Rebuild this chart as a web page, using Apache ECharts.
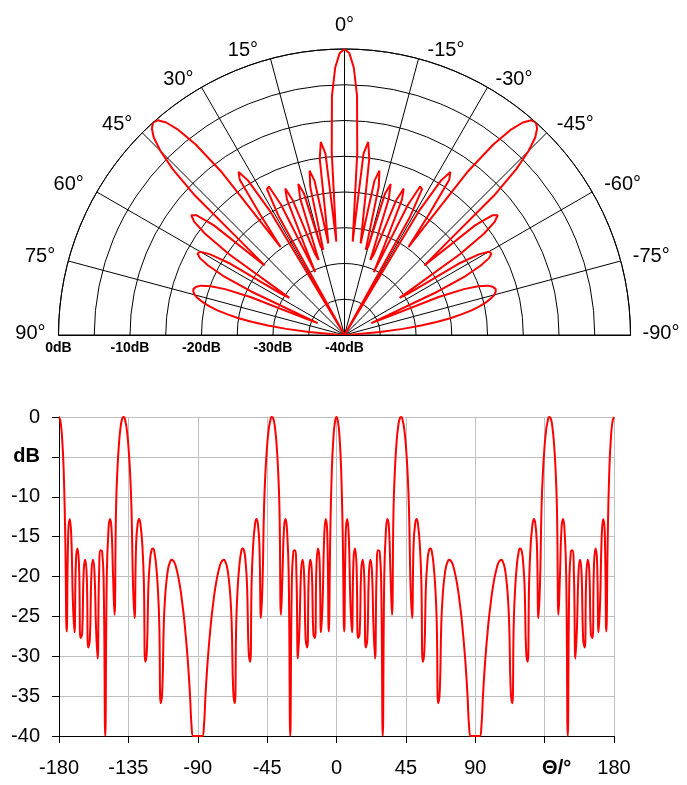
<!DOCTYPE html>
<html>
<head>
<meta charset="utf-8">
<script src="https://cdn.jsdelivr.net/npm/echarts@6/dist/echarts.min.js"></script>
<style>
html,body{margin:0;padding:0;background:#fff;}
#c{width:687px;height:785px;}
</style>
</head>
<body>
<div id="c"></div>
<script>
// Pattern values (dB), one sample per degree.
const thetaStart = -180;           // first sample angle (deg)
// theta -180 .. -90
const dbFromM180 = [
  0, -0.6, -2.6, -6.5, -14.4, -26.9, -14.5, -12.8, -15.1, -23.1,
  -27.0, -18.0, -16.5, -18.7, -27.7, -27.2, -19.4, -17.9, -20.0, -28.9,
  -27.9, -19.8, -17.9, -19.4, -26.3, -30.3, -19.7, -16.7, -16.9, -21.0,
  -40, -19.8, -14.5, -12.8, -13.8, -19.5, -24.8, -11.5, -6.2, -3.1,
  -1.2, -0.2, 0, -0.5, -1.6, -3.6, -6.6, -11.4, -20.9, -25.2,
  -16.1, -13.4, -12.8, -13.7, -15.9, -20.3, -30.7, -29.3, -21.2, -18.1,
  -16.7, -16.5, -17.1, -18.6, -21.1, -25.6, -35.9, -34.3, -25.8, -22.1,
  -20.1, -18.8, -18.2, -17.9, -18.0, -18.3, -18.9, -19.7, -20.7, -21.9,
  -23.4, -25.0, -27.0, -29.2, -31.8, -35.0, -38.8, -40, -40, -40,
  -40
];
// theta -89 .. 0
const dbFromM89 = [
  -40, -40, -40, -38.8, -35.0, -31.8, -29.2, -27.0, -25.0, -23.4,
  -21.9, -20.7, -19.7, -18.9, -18.3, -18.0, -17.9, -18.2, -18.8, -20.1,
  -22.1, -25.8, -34.3, -35.9, -25.6, -21.1, -18.6, -17.1, -16.5, -16.7,
  -18.1, -21.2, -29.3, -30.7, -20.3, -15.9, -13.7, -12.8, -13.4, -16.1,
  -25.2, -20.9, -11.4, -6.6, -3.6, -1.6, -0.5, 0, -0.2, -1.2,
  -3.1, -6.2, -11.5, -24.8, -19.5, -13.8, -12.8, -14.5, -19.8, -40,
  -21.0, -16.9, -16.7, -19.7, -30.3, -26.3, -19.4, -17.9, -19.8, -27.9,
  -28.9, -20.0, -17.9, -19.4, -27.2, -27.7, -18.7, -16.5, -18.0, -27.0,
  -23.1, -15.1, -12.8, -14.5, -26.9, -14.4, -6.5, -2.6, -0.6, 0
];
// theta 1 .. 90
const dbFrom1 = [
  -0.6, -2.6, -6.5, -14.4, -26.9, -14.5, -12.8, -15.1, -23.1, -27.0,
  -18.0, -16.5, -18.7, -27.7, -27.2, -19.4, -17.9, -20.0, -28.9, -27.9,
  -19.8, -17.9, -19.4, -26.3, -30.3, -19.7, -16.7, -16.9, -21.0, -40,
  -19.8, -14.5, -12.8, -13.8, -19.5, -24.8, -11.5, -6.2, -3.1, -1.2,
  -0.2, 0, -0.5, -1.6, -3.6, -6.6, -11.4, -20.9, -25.2, -16.1,
  -13.4, -12.8, -13.7, -15.9, -20.3, -30.7, -29.3, -21.2, -18.1, -16.7,
  -16.5, -17.1, -18.6, -21.1, -25.6, -35.9, -34.3, -25.8, -22.1, -20.1,
  -18.8, -18.2, -17.9, -18.0, -18.3, -18.9, -19.7, -20.7, -21.9, -23.4,
  -25.0, -27.0, -29.2, -31.8, -35.0, -38.8, -40, -40, -40, -40
];
// theta 91 .. 180
const dbFrom91 = [
  -40, -40, -40, -38.8, -35.0, -31.8, -29.2, -27.0, -25.0, -23.4,
  -21.9, -20.7, -19.7, -18.9, -18.3, -18.0, -17.9, -18.2, -18.8, -20.1,
  -22.1, -25.8, -34.3, -35.9, -25.6, -21.1, -18.6, -17.1, -16.5, -16.7,
  -18.1, -21.2, -29.3, -30.7, -20.3, -15.9, -13.7, -12.8, -13.4, -16.1,
  -25.2, -20.9, -11.4, -6.6, -3.6, -1.6, -0.5, 0, -0.2, -1.2,
  -3.1, -6.2, -11.5, -24.8, -19.5, -13.8, -12.8, -14.5, -19.8, -40,
  -21.0, -16.9, -16.7, -19.7, -30.3, -26.3, -19.4, -17.9, -19.8, -27.9,
  -28.9, -20.0, -17.9, -19.4, -27.2, -27.7, -18.7, -16.5, -18.0, -27.0,
  -23.1, -15.1, -12.8, -14.5, -26.9, -14.4, -6.5, -2.6, -0.6, 0
];

// Axis text
const xAxisName = 'Θ/°';     // shown in place of the 135 tick label
const xNameTick = 135;
const yAxisName = 'dB';      // shown in place of the -5 tick label
const yNameTick = -5;
const radiusUnit = 'dB';
const angleUnit = '°';

const gainDb = [].concat(dbFromM180, dbFromM89, dbFrom1, dbFrom91);
const thetaDeg = gainDb.map((_, i) => thetaStart + i);

const cartData = thetaDeg.map((t, i) => [t, gainDb[i]]);
const polarData = [];
thetaDeg.forEach((t, i) => { if (t >= -90 && t <= 90) polarData.push([gainDb[i], t]); });

const FONT = '"Liberation Sans", Arial, Helvetica, sans-serif';
const rt = (pad) => ({ fontFamily: FONT, fontSize: 20, color: '#000', lineHeight: 16, padding: pad });
const angleRich = {
  a0: rt([0, 0, 31, 0]),
  p15: rt([0, 55, 0, 0]), n15: rt([0, 0, 0, 55]),
  p30: rt([0, 8, 0, 0]),  n30: rt([0, 0, 0, 8]),
  p45: rt([0, 10, 0, 0]), n45: rt([0, 0, 0, 10]),
  p60: rt([0, 13, 0, 0]), n60: rt([0, 0, 0, 12]),
  p75: rt([0, 13, 8, 0]), n75: rt([0, 0, 8, 12]),
  p90: rt([0, 13, 4, 0]), n90: rt([0, 0, 4, 12])
};
function angleStyleName(v) {
  if (v === 0) return 'a0';
  return (v > 0 ? 'p' : 'n') + Math.abs(v);
}

const chart = echarts.init(document.getElementById('c'), null, { renderer: 'canvas' });
const option = {
  animation: false,
  backgroundColor: '#ffffff',
  polar: [
    { center: [344.5, 335], radius: [0, 286] },
    { center: [344.5, 335], radius: [0, 286] }
  ],
  angleAxis: [
    {
      polarIndex: 0, type: 'value', min: -90, max: 90, interval: 15,
      startAngle: 0, endAngle: 180, clockwise: false,
      axisLine: { show: true, lineStyle: { color: '#000', width: 1 } },
      axisTick: { show: false },
      splitLine: { show: true, lineStyle: { color: '#000', width: 1 } },
      axisLabel: {
        show: true, margin: 0,
        fontFamily: FONT, fontSize: 20, color: '#000',
        formatter: v => '{' + angleStyleName(v) + '|' + v + angleUnit + '}',
        rich: angleRich
      }
    },
    {
      polarIndex: 1, type: 'value', min: -90, max: 90, interval: 15,
      startAngle: 180, endAngle: 0, clockwise: true,
      axisLine: { show: false }, axisTick: { show: false },
      splitLine: { show: false }, axisLabel: { show: false }
    }
  ],
  radiusAxis: [
    {
      polarIndex: 0, type: 'value', min: -40, max: 0, interval: 5,
      axisLine: { show: true, lineStyle: { color: '#000', width: 1 } },
      axisTick: { show: false },
      axisLabel: { show: false },
      splitLine: { show: true, lineStyle: { color: '#000', width: 1 } }
    },
    {
      polarIndex: 1, type: 'value', min: -40, max: 0, interval: 5,
      axisLine: { show: true, lineStyle: { color: '#000', width: 1 } },
      axisTick: { show: false },
      splitLine: { show: false },
      axisLabel: {
        show: true, margin: 6,
        fontFamily: FONT, fontWeight: 'bold', fontSize: 14, color: '#000',
        formatter: v => (v % 10 === 0 ? v + radiusUnit : '')
      }
    }
  ],
  grid: { left: 59, right: 73, top: 417, bottom: 49, containLabel: false, outerBoundsMode: 'none' },
  xAxis: {
    type: 'value', min: -180, max: 180, interval: 45,
    axisLine: { show: true, onZero: false, lineStyle: { color: '#000', width: 1 } },
    axisTick: { show: true, length: 7, lineStyle: { color: '#000' } },
    splitLine: { show: true, lineStyle: { color: '#c0c0c0', width: 1 } },
    axisLabel: {
      margin: 22, fontFamily: FONT, fontSize: 20, color: '#000',
      formatter: v => (v === xNameTick ? '{b|' + xAxisName + '}' : String(v)),
      rich: { b: { fontFamily: FONT, fontSize: 20, fontWeight: 'bold', color: '#000', padding: [0, 0, 0, 24] } }
    }
  },
  yAxis: {
    type: 'value', min: -40, max: 0, interval: 5,
    axisLine: { show: true, onZero: false, lineStyle: { color: '#000', width: 1 } },
    axisTick: { show: true, length: 7, lineStyle: { color: '#000' } },
    splitLine: { show: true, lineStyle: { color: '#c0c0c0', width: 1 } },
    axisLabel: {
      margin: 19, fontFamily: FONT, fontSize: 20, color: '#000',
      formatter: v => (v === yNameTick ? '{b|' + yAxisName + '}' : String(v)),
      rich: { b: { fontFamily: FONT, fontSize: 20, fontWeight: 'bold', color: '#000' } }
    }
  },
  series: [
    {
      type: 'line', coordinateSystem: 'polar', polarIndex: 0,
      data: polarData, showSymbol: false, smooth: false, z: 5,
      lineStyle: { color: '#ff0000', width: 2 }
    },
    {
      type: 'line', xAxisIndex: 0, yAxisIndex: 0,
      data: cartData, showSymbol: false, smooth: true, z: 5,
      lineStyle: { color: '#ff0000', width: 2 }
    }
  ]
};
chart.setOption(option);
</script>
</body>
</html>
